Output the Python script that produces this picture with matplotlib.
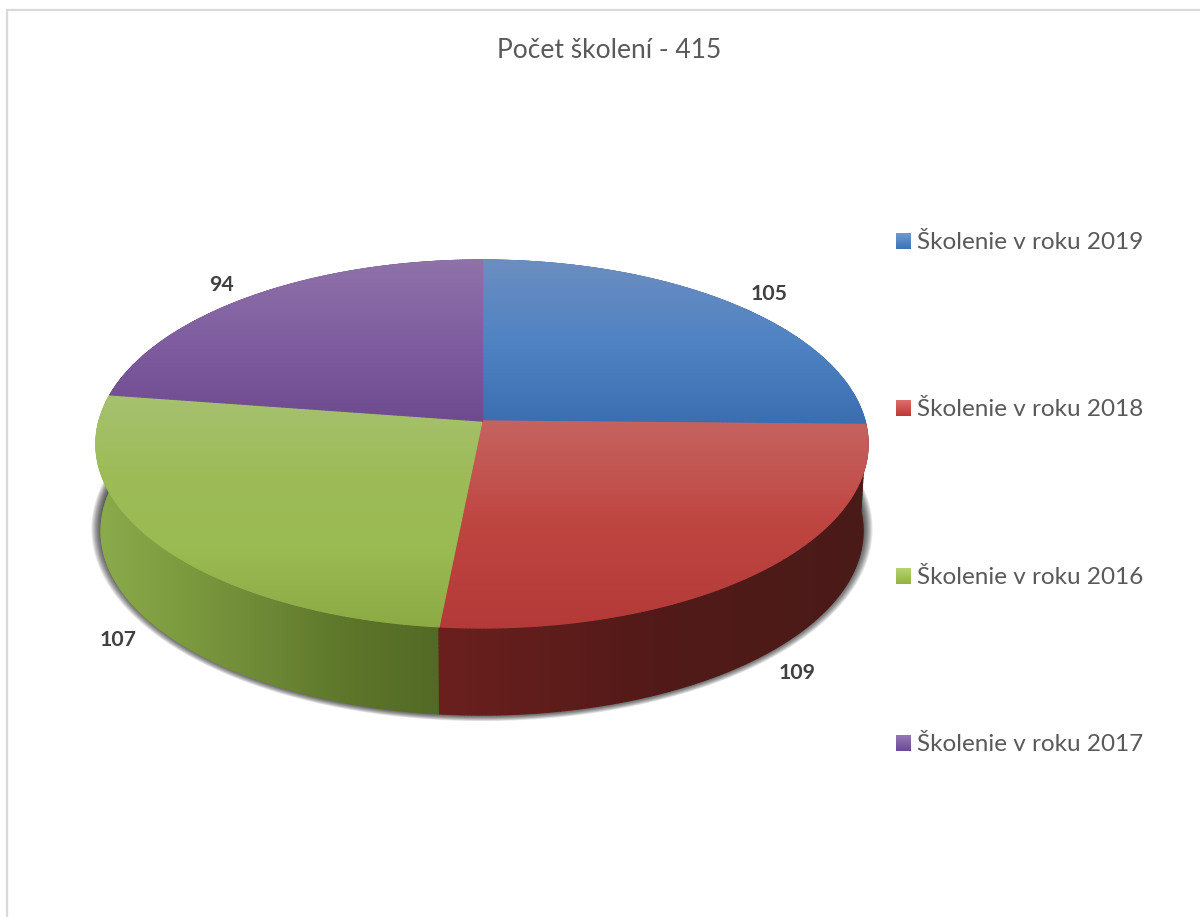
import numpy as np
import matplotlib
matplotlib.use('Agg')
import matplotlib.pyplot as plt
from matplotlib.collections import LineCollection
from matplotlib.colors import LinearSegmentedColormap
from matplotlib.patches import Polygon

plt.rcParams['font.family'] = ['Lato', 'DejaVu Sans']

# data, clockwise from 12 o'clock
categories = ['Školenie v roku 2019', 'Školenie v roku 2018',
              'Školenie v roku 2016', 'Školenie v roku 2017']
values = [105, 109, 107, 94]
title = 'Počet školení - 415'

# gradient stops for the top of each slice (light to dark, top to bottom)
top_cols = [['#6c8ec0', '#4f83c3', '#3a6eb1'],
            ['#c6635f', '#bf4541', '#b33a38'],
            ['#a7c170', '#9dbc58', '#9aba52', '#8dab45'],
            ['#8f72a9', '#7f5da0', '#6e4b8e']]
# gradient stops for the wall of each slice (left to right)
wall_cols = [['#2c4a70', '#2c4a70'],
             ['#6b201e', '#521a18', '#4a1b18'],
             ['#8cab4d', '#7c9b3e', '#6d8836', '#5c7529', '#526a25'],
             ['#4a2f63', '#4a2f63']]
leg_cols = [['#6f9bd4', '#3c72b5'], ['#dc6f6c', '#bd3a36'],
            ['#b4d473', '#92b43f'], ['#9478b8', '#6d4a94']]

# pie geometry in pixels (slightly perspective disc)
cx, cy = 482, 421
rx, ry = 383, 181.1
k = 0.125
depth = 87
wall_shrink = 0.987


def rim(theta, grow=0, shrink=1.0, dy=0, gy=0):
    u, v = np.sin(theta), np.cos(theta)
    w = 1 + k * v
    x = cx + (rx * shrink + grow) * u / w
    y = cy + dy - (ry + gy) * v / w
    return x, y


def densify(xy, step=4.0):
    # split long straight edges so the edge stroke can follow the gradient
    pts = np.vstack([xy, xy[:1]])
    out = []
    for a, b in zip(pts[:-1], pts[1:]):
        n = max(int(np.hypot(*(b - a)) / step), 1)
        out.append(a + (b - a) * np.linspace(0, 1, n, endpoint=False)[:, None])
    return np.vstack(out)


def grad_fill(ax, xy, cols, z, horizontal=False):
    poly = Polygon(xy, closed=True, fc='none', ec='none', transform=ax.transData)
    ax.add_patch(poly)
    cmap = LinearSegmentedColormap.from_list('g', cols)
    ramp = np.linspace(0, 1, 256)
    ramp = ramp[None, :] if horizontal else ramp[:, None]
    x0, x1 = xy[:, 0].min(), xy[:, 0].max()
    y0, y1 = xy[:, 1].min(), xy[:, 1].max()
    im = ax.imshow(ramp, cmap=cmap, extent=(x0, x1, y1, y0), aspect='auto',
                   interpolation='bilinear', origin='upper', zorder=z)
    im.set_clip_path(poly)
    # clip paths are jagged, so run a thin coloured stroke round the edge
    dense = densify(xy)
    pts = np.vstack([dense, dense[:1]])
    segs = np.stack([pts[:-1], pts[1:]], axis=1)
    pos = (pts[:-1, 0] - x0) / (x1 - x0) if horizontal else (pts[:-1, 1] - y0) / (y1 - y0)
    ax.add_collection(LineCollection(segs, colors=cmap(pos), lw=0.9, zorder=z + 0.1,
                                     capstyle='round'), autolim=False)


fig = plt.figure(figsize=(12, 9.17), dpi=100)
ax = fig.add_axes([0, 0, 1, 1])
ax.set_xlim(0, 1200)
ax.set_ylim(917, 0)
ax.axis('off')

# chart frame, only left and top show in the crop
ax.plot([7, 7, 1200], [917, 10, 10], color='#d9d9d9', lw=1.6, solid_joinstyle='miter')

ax.text(609, 51, title, ha='center', va='center', fontsize=19, color='#595959')

# soft shadow under the wall
full = np.linspace(0, 2 * np.pi, 361)
for i in range(10):
    f = 1 - i / 9
    sx, sy = rim(full, grow=1 + 8.5 * f, shrink=wall_shrink, dy=depth - 3, gy=1 + 5 * f + 2)
    ax.fill(sx, sy, color='black', alpha=0.09, lw=0, zorder=2)

edges = np.cumsum([0] + values) / sum(values) * 2 * np.pi
mid = (edges[:-1] + edges[1:]) / 2

# walls, back ones first
for n, i in enumerate(np.argsort(-np.cos(mid))):
    th = np.linspace(edges[i], edges[i + 1], 200)
    tx, ty = rim(th)
    bx, by = rim(th[::-1], shrink=wall_shrink, dy=depth)
    grad_fill(ax, np.column_stack([np.r_[tx, bx], np.r_[ty, by]]), wall_cols[i],
              3 + n * 0.2, horizontal=True)

# top faces
for i in range(len(values)):
    th = np.linspace(edges[i], edges[i + 1], 200)
    tx, ty = rim(th)
    xy = np.column_stack([np.r_[cx, tx], np.r_[cy, ty]])
    grad_fill(ax, xy, top_cols[i], 5 + i * 0.2)

# data labels
label_x = [769, 797, 118, 221]
label_y = [294, 673, 640, 285]
for v, lx, ly in zip(values, label_x, label_y):
    ax.text(lx, ly, str(v), ha='center', va='center', fontsize=15.3,
            fontweight='bold', color='#404040', zorder=8)

# legend
leg_y = [241, 408, 576, 743]
for name, ly, cols in zip(categories, leg_y, leg_cols):
    ramp = np.linspace(0, 1, 64)[:, None]
    ax.imshow(ramp, cmap=LinearSegmentedColormap.from_list('l', cols),
              extent=(896, 911, ly + 8, ly - 8), aspect='auto', origin='upper', zorder=8)
    ax.text(917, ly + 1.5, name, ha='left', va='center', fontsize=17.5, color='#595959', zorder=8)

ax.set_xlim(0, 1200)
ax.set_ylim(917, 0)
fig.savefig('out.png', dpi=100)
